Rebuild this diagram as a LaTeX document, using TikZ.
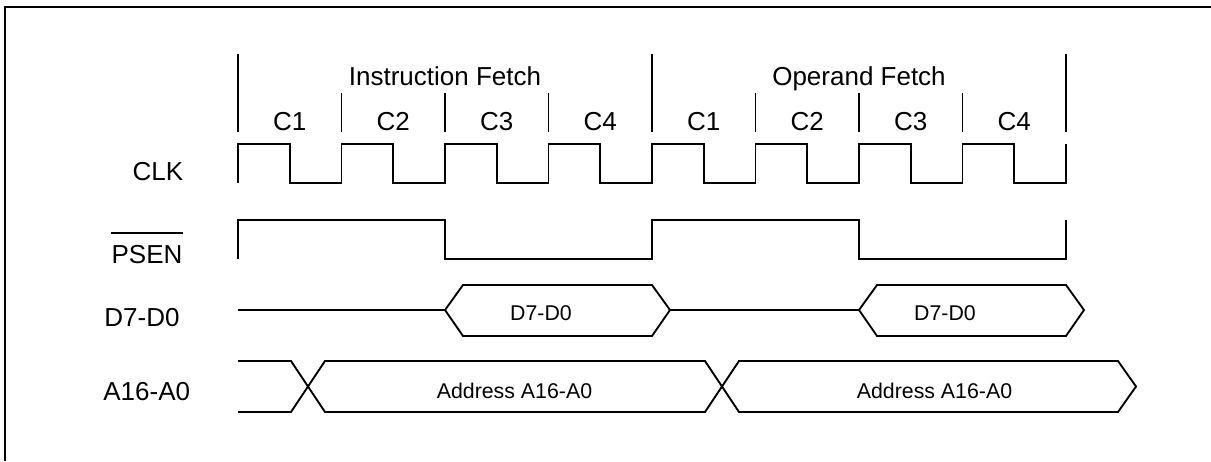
\documentclass[tikz,border=0pt]{standalone}
\usepackage{fontspec}
\setmainfont{Liberation Sans}
\usetikzlibrary{positioning}

\begin{document}
\begin{tikzpicture}[x=0.75pt, y=-0.75pt,
  wave/.style={line width=1.4pt, line join=miter},
  siglabel/.style={font=\fontsize{19.5}{22}\selectfont, inner sep=0pt, anchor=base},
  buslabel/.style={font=\fontsize{16}{19}\selectfont, inner sep=0pt, anchor=base}]
\useasboundingbox (0,0) rectangle (1211,461);
\draw[line width=1.5pt] (5,461) -- (5,7) -- (1211,7);

% cycle and state ticks
\foreach \x in {238,652,1066} \draw[wave] (\x,54) -- (\x,132);
\foreach \x in {341.5,445,548.5,755.5,859,962.5} \draw[wave] (\x,93) -- (\x,132);
\node[siglabel] (ifetch) at (445,85) {Instruction Fetch};
\node[siglabel] (ofetch) at (859,85) {Operand Fetch};
\foreach \k in {0,...,7} {
  \pgfmathtruncatemacro\cnum{mod(\k,4)+1}
  \node[siglabel] (c\k) at ({238+51.75*(2*\k+1)},130.7) {C\cnum};
}

% signal names
\node[siglabel] (clk) at (158,180) {CLK};
\node[siglabel] (psen) at (147,263.3) {PSEN};
\draw[line width=1pt] ([yshift=9pt]psen.north west) -- ([yshift=9pt]psen.north east);
\node[siglabel] (dbus) at (142,326) {D7-D0};
\node[siglabel] (abus) at (146.7,400.7) {A16-A0};

% clock
\draw[wave] (238,183) \foreach \i in {0,...,7} { -- ++(0,-39) -- ++(51.75,0) -- ++(0,39) -- ++(51.75,0) } -- ++(0,-39);

% psen
\draw[wave] (238,259) |- (445,220) |- (652,259) |- (859,220) |- (1066,259) -- (1066,220);

% data bus
\draw[wave] (238,310) -- (445,310) -- (463,285) -- (652,285) -- (670,310) -- (859,310)
  -- (877,285) -- (1066,285) -- (1084,310) -- (1066,336) -- (877,336) -- (859,310);
\draw[wave] (445,310) -- (463,336) -- (652,336) -- (670,310);
\node[buslabel] (data1) at (541,320.7) {D7-D0};
\node[buslabel] (data2) at (945,320.7) {D7-D0};

% address bus
\draw[wave] (238,361) -- (291,361) -- (325,412) -- (705,412) -- (739,361) -- (1118,361)
  -- (1136,386.5) -- (1118,412) -- (739,412) -- (705,361) -- (325,361) -- (291,412) -- (238,412);
\node[buslabel] (addr1) at (514.5,398.3) {Address A16-A0};
\node[buslabel] (addr2) at (934.5,398.3) {Address A16-A0};
\end{tikzpicture}
\end{document}
